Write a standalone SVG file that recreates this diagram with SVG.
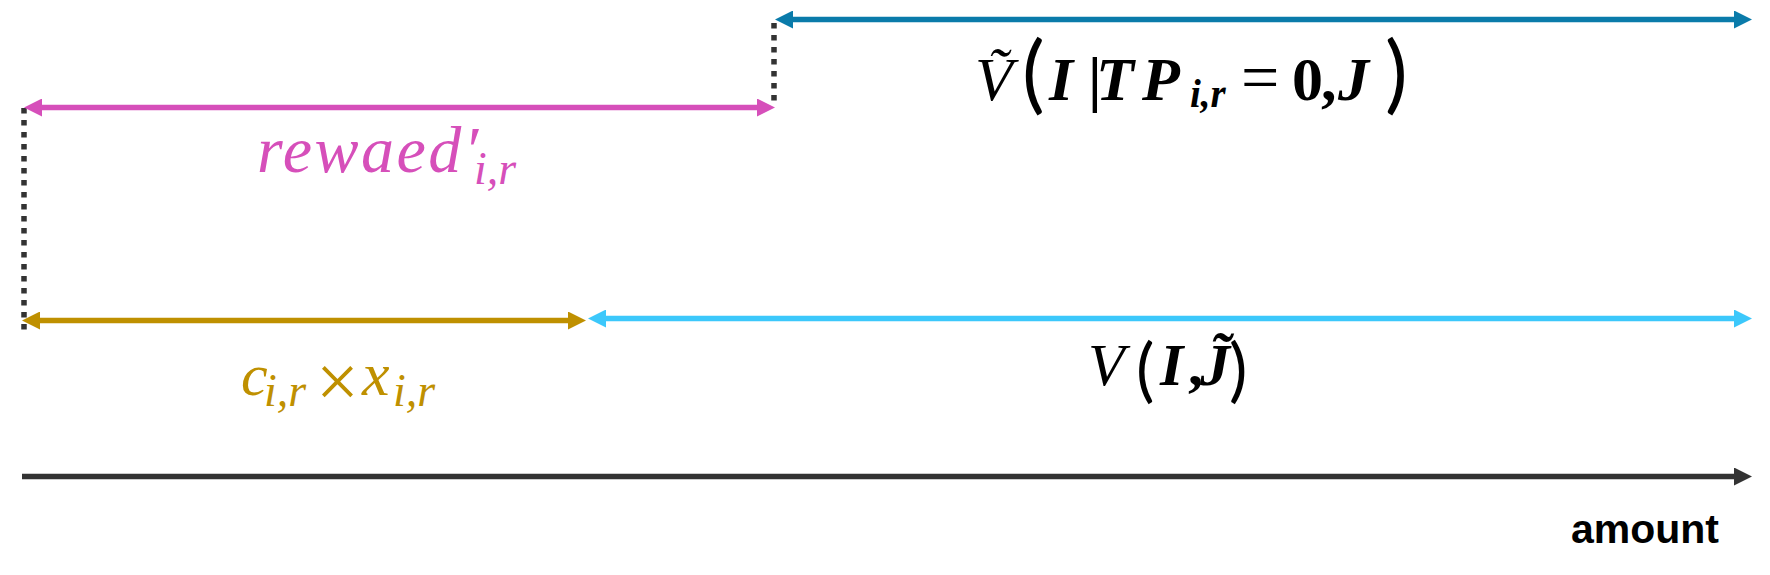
<svg xmlns="http://www.w3.org/2000/svg" width="1770" height="575" viewBox="0 0 1770 575">
<style>
.m{font-family:"Liberation Serif","DejaVu Serif",serif;font-style:italic;font-size:62px}
.b{font-weight:bold}
.u{font-style:normal}
.p{font-family:Lato,"Liberation Sans",sans-serif;font-style:normal;font-weight:400}
.dots{stroke:#333;stroke-width:5.5;stroke-dasharray:5.5 6.5;fill:none}
.ln{stroke-width:5.5;fill:none}
</style>
<defs>
<marker id="hTeal" markerUnits="userSpaceOnUse" markerWidth="18" markerHeight="18" refX="0" refY="9" orient="auto-start-reverse"><path d="M0,0 L18,9 L0,18 z" fill="#0A7BAA"/></marker>
<marker id="hPink" markerUnits="userSpaceOnUse" markerWidth="18" markerHeight="18" refX="0" refY="9" orient="auto-start-reverse"><path d="M0,0 L18,9 L0,18 z" fill="#D64FBA"/></marker>
<marker id="hGold" markerUnits="userSpaceOnUse" markerWidth="18" markerHeight="18" refX="0" refY="9" orient="auto-start-reverse"><path d="M0,0 L18,9 L0,18 z" fill="#BF9000"/></marker>
<marker id="hCyan" markerUnits="userSpaceOnUse" markerWidth="18" markerHeight="18" refX="0" refY="9" orient="auto-start-reverse"><path d="M0,0 L18,9 L0,18 z" fill="#3CC8FB"/></marker>
<marker id="hDark" markerUnits="userSpaceOnUse" markerWidth="18" markerHeight="18" refX="0" refY="9" orient="auto"><path d="M0,0 L18,9 L0,18 z" fill="#333"/></marker>
</defs>
<g id="connectors">
<line class="dots" x1="24" y1="108" x2="24" y2="331"/>
<line class="dots" x1="774" y1="23" x2="774" y2="102"/>
<line class="ln" x1="793" y1="19.5" x2="1734" y2="19.5" stroke="#0A7BAA" marker-start="url(#hTeal)" marker-end="url(#hTeal)"/>
<line class="ln" x1="42" y1="107.5" x2="757" y2="107.5" stroke="#D64FBA" marker-start="url(#hPink)" marker-end="url(#hPink)"/>
<line class="ln" x1="40" y1="320.5" x2="568" y2="320.5" stroke="#BF9000" marker-start="url(#hGold)" marker-end="url(#hGold)"/>
<line class="ln" x1="606" y1="318.5" x2="1734" y2="318.5" stroke="#3CC8FB" marker-start="url(#hCyan)" marker-end="url(#hCyan)"/>
<line class="ln" x1="22" y1="476.5" x2="1734" y2="476.5" stroke="#333" marker-end="url(#hDark)"/>
</g>
<g id="label-vtilde">
<text class="m" y="100" fill="#000"><tspan x="975">Ṽ</tspan><tspan x="1022" y="103" class="p" style="font-size:85px">(</tspan><tspan x="1049" y="100" class="b">I</tspan><tspan x="1088" class="u b">|</tspan><tspan x="1096" class="b">T</tspan><tspan x="1142" class="b">P</tspan><tspan x="1190" y="107" class="b" style="font-size:39px">i,r</tspan><tspan x="1241" y="100" class="u" style="font-size:68px">=</tspan><tspan x="1292" class="u b">0</tspan><tspan x="1321" class="u b">,</tspan><tspan x="1338" class="b">J</tspan><tspan x="1385" y="103" class="p" style="font-size:85px">)</tspan></text>
</g>
<g id="label-reward">
<text class="m" x="257" y="172" fill="#D64FBA" style="font-size:66px"><tspan style="letter-spacing:2.5px">rewaed′</tspan><tspan x="474" y="184" style="font-size:46px">i,r</tspan></text>
</g>
<g id="label-cx">
<text class="m" y="395" fill="#BF9000" style="font-size:60px"><tspan x="241">c</tspan><tspan x="264" y="406" style="font-size:46px">i,r</tspan><tspan x="316" y="407" class="u" style="font-size:76px">×</tspan><tspan x="362" y="395" style="font-size:62px">x</tspan><tspan x="393" y="406" style="font-size:46px">i,r</tspan></text>
</g>
<g id="label-v">
<text class="m" y="385" fill="#000" style="font-size:60px"><tspan x="1088">V</tspan><tspan x="1136" y="394" class="p" style="font-size:69px">(</tspan><tspan x="1160" y="385" class="b">I</tspan><tspan x="1188" class="u b">,</tspan><tspan x="1200" class="b">J̃</tspan><tspan x="1229" y="394" class="p" style="font-size:69px">)</tspan></text>
</g>
<g id="label-amount">
<text x="1719" y="543" text-anchor="end" fill="#000" style="font-family:'Liberation Sans',Arial,sans-serif;font-weight:bold;font-size:41px">amount</text>
</g>
</svg>
